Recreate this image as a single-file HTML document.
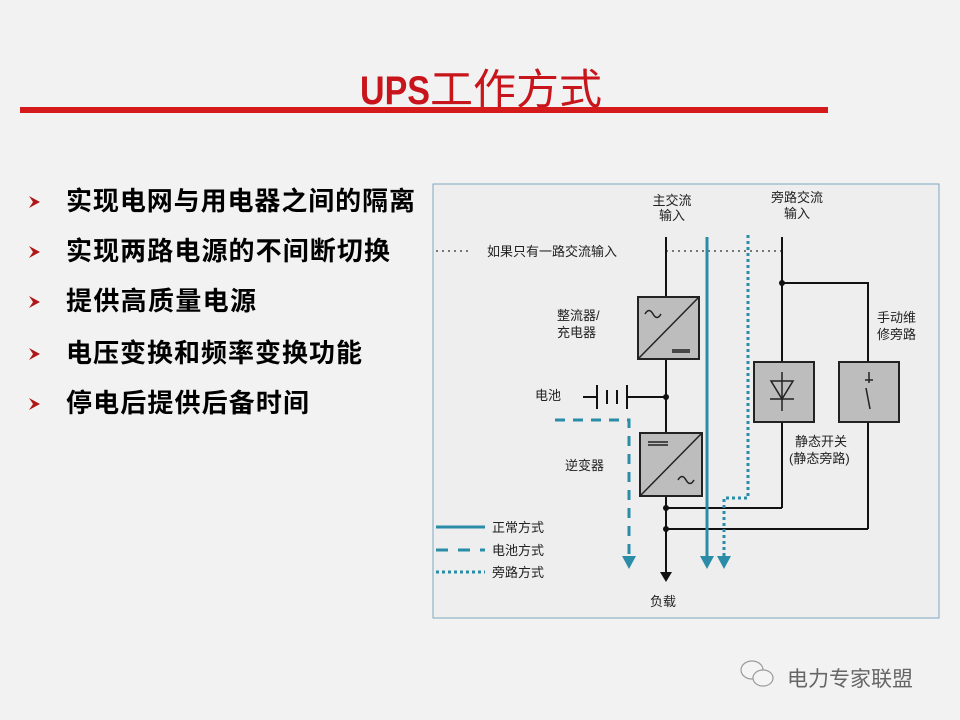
<!DOCTYPE html>
<html><head><meta charset="utf-8"><style>
body{margin:0;background:#f2f2f2;}
svg{display:block}
</style></head><body>
<svg width="960" height="720" viewBox="0 0 960 720" xmlns="http://www.w3.org/2000/svg" font-family="'Liberation Sans','Noto Sans CJK SC',sans-serif">
<rect width="960" height="720" fill="#f2f2f2"/>
<text x="360" y="104" font-size="40" fill="#c8141b" font-weight="bold" font-family="'Liberation Sans Narrow','Liberation Sans',sans-serif" textLength="70" lengthAdjust="spacingAndGlyphs">UPS</text>
<text x="430" y="104" font-size="42" fill="#c8141b" font-family="'Noto Sans CJK SC',sans-serif" textLength="172" lengthAdjust="spacingAndGlyphs">工作方式</text>
<rect x="20" y="107" width="808" height="6" fill="#d41a1a"/>
<g fill="#000" font-size="26" font-weight="bold" font-family="'Liberation Sans','Noto Sans CJK SC',sans-serif">
<text x="66" y="210" textLength="349" lengthAdjust="spacing">实现电网与用电器之间的隔离</text>
<text x="66" y="260" textLength="324" lengthAdjust="spacing">实现两路电源的不间断切换</text>
<text x="66" y="310" textLength="190" lengthAdjust="spacing">提供高质量电源</text>
<text x="66" y="362" textLength="296" lengthAdjust="spacing">电压变换和频率变换功能</text>
<text x="66" y="412" textLength="243" lengthAdjust="spacing">停电后提供后备时间</text>
</g>
<g fill="#b01818">
<path d="M29 196 L40 202 L29 208 L33 202 Z"/>
<path d="M29 246 L40 252 L29 258 L33 252 Z"/>
<path d="M29 296 L40 302 L29 308 L33 302 Z"/>
<path d="M29 348 L40 354 L29 360 L33 354 Z"/>
<path d="M29 398 L40 404 L29 410 L33 404 Z"/>
</g>
<rect x="433" y="184" width="506" height="434" fill="#eeeeee" stroke="#7fa7c3" stroke-width="1"/>
<g font-size="13" fill="#222">
<text x="672" y="205" text-anchor="middle">主交流</text>
<text x="672" y="220" text-anchor="middle">输入</text>
<text x="797" y="202" text-anchor="middle">旁路交流</text>
<text x="797" y="218" text-anchor="middle">输入</text>
<text x="487" y="256">如果只有一路交流输入</text>
<text x="557" y="320">整流器/</text>
<text x="557" y="337">充电器</text>
<text x="535" y="400">电池</text>
<text x="565" y="470">逆变器</text>
<text x="877" y="322">手动维</text>
<text x="877" y="339">修旁路</text>
<text x="795" y="446">静态开关</text>
<text x="789" y="463">(静态旁路)</text>
<text x="650" y="606">负载</text>
<text x="492" y="532">正常方式</text>
<text x="492" y="555">电池方式</text>
<text x="492" y="577">旁路方式</text>
</g>
<g stroke="#000" stroke-width="1" stroke-dasharray="2,4">
<line x1="436" y1="251" x2="470" y2="251"/>
<line x1="666" y1="251" x2="782" y2="251"/>
</g>
<g stroke="#111" stroke-width="2" fill="none">
<line x1="666" y1="237" x2="666" y2="297"/>
<line x1="666" y1="359" x2="666" y2="433"/>
<line x1="666" y1="496" x2="666" y2="572"/>
<line x1="583" y1="397" x2="597" y2="397"/>
<line x1="666" y1="508" x2="782" y2="508"/>
<line x1="666" y1="529" x2="868" y2="529"/>
<line x1="782" y1="237" x2="782" y2="362"/>
<line x1="782" y1="422" x2="782" y2="508"/>
<polyline points="782,283 868,283 868,362"/>
<line x1="868" y1="422" x2="868" y2="529"/>
</g>
<g stroke="#111" stroke-width="2">
<line x1="597" y1="385" x2="597" y2="409"/>
<line x1="607" y1="390" x2="607" y2="404"/>
<line x1="617" y1="390" x2="617" y2="404"/>
<line x1="627" y1="385" x2="627" y2="409"/>
<line x1="627" y1="397" x2="666" y2="397"/>
</g>
<g fill="#111">
<circle cx="666" cy="397" r="3"/><circle cx="666" cy="508" r="3"/><circle cx="666" cy="529" r="3"/><circle cx="782" cy="283" r="3"/>
<path d="M660 572 L672 572 L666 582 Z"/>
</g>
<g fill="#bdbdbd" stroke="#222" stroke-width="2">
<rect x="638" y="297" width="61" height="62"/>
<rect x="640" y="433" width="62" height="63"/>
<rect x="754" y="362" width="60" height="60"/>
<rect x="839" y="362" width="60" height="60"/>
</g>
<g stroke="#222" stroke-width="1.5" fill="none">
<line x1="638" y1="359" x2="699" y2="297"/>
<line x1="640" y1="496" x2="702" y2="433"/>
<path d="M645 314 q4 -7 8 0 t8 0"/>
<path d="M678 480 q4 -7 8 0 t8 0"/>
<line x1="672" y1="350" x2="690" y2="350"/><line x1="672" y1="352" x2="690" y2="352"/>
<line x1="648" y1="442" x2="668" y2="442"/><line x1="648" y1="445" x2="668" y2="445"/>
<path d="M771 381 L793 381 L782 399 Z"/>
<line x1="770" y1="399" x2="794" y2="399"/>
<line x1="782" y1="372" x2="782" y2="411"/>
<line x1="869" y1="372" x2="869" y2="383"/>
<line x1="865" y1="380" x2="873" y2="380"/>
<line x1="866" y1="388" x2="870" y2="409"/>
</g>
<g stroke="#2b8ca8" fill="none">
<line x1="707" y1="237" x2="707" y2="560" stroke-width="3"/>
<polyline points="748,235 748,498 724,498 724,560" stroke-width="3" stroke-dasharray="3,3"/>
<polyline points="555,420 629,420 629,560" stroke-width="3" stroke-dasharray="10,8"/>
<line x1="436" y1="527" x2="485" y2="527" stroke-width="3"/>
<line x1="436" y1="550" x2="485" y2="550" stroke-width="3" stroke-dasharray="12,10"/>
<line x1="436" y1="572" x2="485" y2="572" stroke-width="3" stroke-dasharray="3,3"/>
</g>
<g fill="#2b8ca8">
<path d="M700 556 L714 556 L707 569 Z"/>
<path d="M717 556 L731 556 L724 569 Z"/>
<path d="M622 556 L636 556 L629 569 Z"/>
</g>
<g stroke="#9a9a9a" fill="#f4f4f4" stroke-width="1.2">
<ellipse cx="752" cy="670" rx="11" ry="9"/>
<ellipse cx="763" cy="678" rx="10" ry="8"/>
</g>
<text x="787" y="686" font-size="21" fill="#666">电力专家联盟</text>
</svg>
</body></html>
